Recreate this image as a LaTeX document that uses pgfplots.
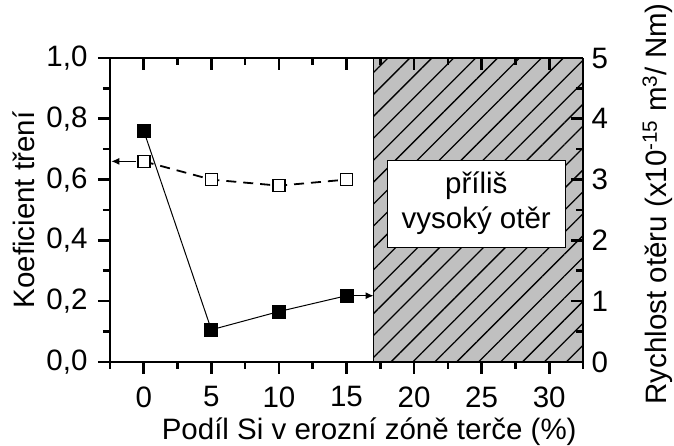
\documentclass[border=0pt]{standalone}
\usepackage{pgfplots}
\pgfplotsset{compat=1.18}
\usepackage{fontspec}
\setmainfont{Liberation Sans}
\usetikzlibrary{patterns.meta,arrows.meta}

\definecolor{hatchgray}{RGB}{192,192,192}

\pgfplotsset{
  common/.style={
    scale only axis,
    width=473pt, height=304pt,
    xmin=-2.5, xmax=32.5,
    xtick={0,5,10,15,20,25,30},
    minor xtick={-2.5,2.5,7.5,12.5,17.5,22.5,27.5,32.5},
    axis line style={line width=2.6pt},
    every tick/.style={black, line width=2.6pt},
    major tick length=12pt,
    minor tick length=7pt,
    tick label style={font=\fontsize{29.5}{35}\selectfont},
    label style={font=\fontsize{29.5}{35}\selectfont},
    /pgf/number format/assume math mode=true,
    clip=false,
  }
}

\begin{document}
\begin{tikzpicture}[font=\fontsize{29.5}{35}\selectfont]
\useasboundingbox (-110pt,-84pt) rectangle (564pt,362pt);

% friction coefficient, left axis
\begin{axis}[common, name=ax,
  axis x line*=bottom, axis y line*=left,
  tick align=outside,
  ymin=0, ymax=1,
  ytick={0,0.2,0.4,0.6,0.8,1.0},
  minor ytick={0.1,0.3,0.5,0.7,0.9},
  yticklabel style={xshift=-7pt, /pgf/number format/.cd, use comma, fixed, fixed zerofill, precision=1},
  xticklabel style={yshift=-9pt},
  xlabel={Podíl Si v erozní zóně terče (\%)},
  xlabel style={at={(axis description cs:0.548,-0.256)}, anchor=base, inner sep=0pt},
  ylabel={Koeficient tření},
  ylabel style={at={(axis description cs:-0.16,0.5)}, anchor=base, inner sep=0pt},
  axis on top,
]
  % region of excessive wear
  \fill[hatchgray] (axis cs:17,0) rectangle (axis cs:32.5,1);
  \fill[pattern={Lines[angle=45,distance=15.5pt,line width=1.3pt]}, pattern color=black]
    (axis cs:17,0) rectangle (axis cs:32.5,1);
  \draw[line width=1pt] (axis cs:17,0) -- (axis cs:17,1);
  \node[fill=white, draw=black, line width=0.8pt, align=center,
        minimum width=178pt, minimum height=87pt, inner sep=0pt]
    at (axis cs:24.6,0.521) {příliš\\vysoký otěr};

  \addplot[black, line width=1.8pt, dash pattern=on 10pt off 7pt,
           mark=square*, mark size=6pt,
           mark options={solid, fill=white, line width=1.5pt}]
    coordinates {(0,0.66) (5,0.60) (10,0.58) (15,0.60)};

  \draw[-{Latex[length=8pt,width=7pt]}, line width=1pt]
    (axis cs:-0.55,0.66) -- (axis cs:-2.4,0.66);
\end{axis}

% wear rate, right axis
\begin{axis}[common,
  axis x line*=top, axis y line*=right,
  tick align=inside,
  xticklabels={},
  ymin=0, ymax=5,
  ytick={0,1,2,3,4,5},
  minor ytick={0.5,1.5,2.5,3.5,4.5},
  yticklabel style={xshift=5pt},
  ylabel={Rychlost otěru (x10\textsuperscript{-15} m\textsuperscript{3}/ Nm)},
  ylabel style={at={(axis description cs:1.1755,1.181)}, anchor=base east, inner sep=0pt},
]
  \addplot[black, line width=1pt, mark=square*, mark size=6.5pt]
    coordinates {(0,3.80) (5,0.53) (10,0.83) (15,1.09)};

  \draw[-{Latex[length=8pt,width=7pt]}, line width=1pt]
    (axis cs:15.55,1.09) -- (axis cs:17,1.09);
\end{axis}
\end{tikzpicture}
\end{document}
